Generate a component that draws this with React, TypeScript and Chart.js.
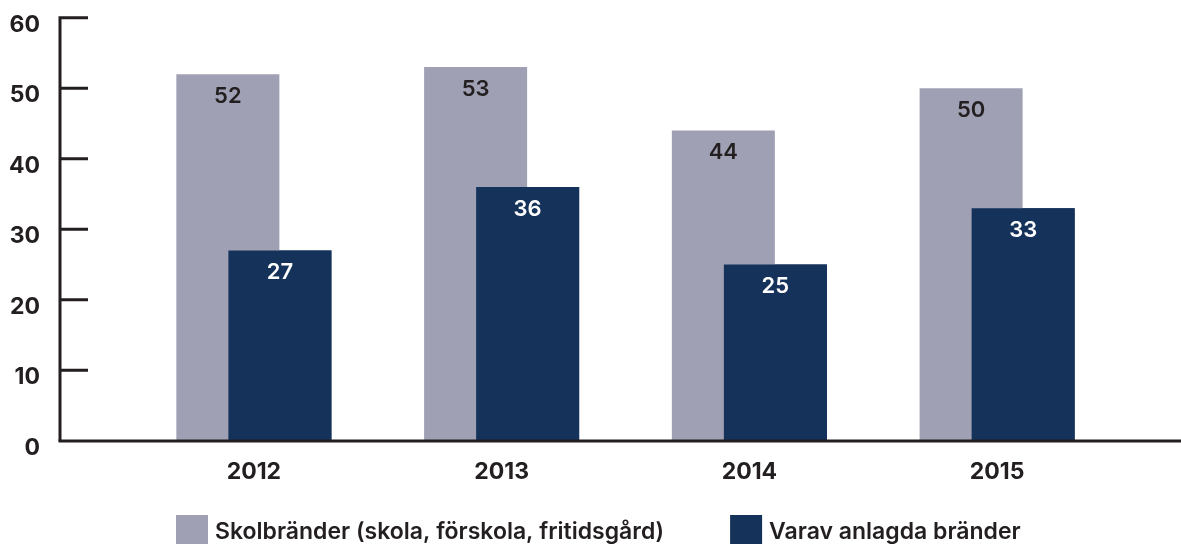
import React, { useEffect, useRef } from 'react';
import { Chart, registerables } from 'chart.js';

Chart.register(...registerables);

const categories = ['2012', '2013', '2014', '2015'];
const skolbrander = [52, 53, 44, 50];
const anlagda = [27, 36, 25, 33];
const seriesNames = ['Skolbränder (skola, förskola, fritidsgård)', 'Varav anlagda bränder'];
const yMin = 0;
const yMax = 60;
const yStep = 10;

const GRAY = '#A0A0B4';
const NAVY = '#15325A';
const INK = '#231F20';
const FONT = 'Inter, "Open Sans", Lato, sans-serif';

const overlayPlugin = {
  id: 'overlay',
  afterDatasetsDraw(chart: any) {
    const { ctx, chartArea } = chart;
    const y = chart.scales.y;
    // navy bars drawn over the gray ones
    chart.getDatasetMeta(1).data.forEach((el: any) => el.draw(ctx));

    // value labels
    ctx.save();
    ctx.textAlign = 'center';
    ctx.textBaseline = 'middle';
    ctx.font = `600 22px ${FONT}`;
    chart.data.datasets.forEach((ds: any, di: number) => {
      const meta = chart.getDatasetMeta(di);
      ctx.fillStyle = di === 0 ? INK : '#FFFFFF';
      meta.data.forEach((el: any, i: number) => {
        ctx.fillText(String(ds.data[i]), el.x, el.y + 22);
      });
    });
    ctx.restore();

    // axes
    ctx.save();
    ctx.strokeStyle = INK;
    ctx.lineWidth = 3;
    ctx.lineCap = 'butt';
    const ax = chartArea.left - 70;
    const y0 = y.getPixelForValue(yMin);
    const yTop = y.getPixelForValue(yMax);
    ctx.beginPath();
    ctx.moveTo(ax, yTop - 1.5);
    ctx.lineTo(ax, y0);
    y.ticks.forEach((t: any) => {
      if (t.value === yMin) return;
      const py = y.getPixelForValue(t.value);
      ctx.moveTo(ax - 1.5, py);
      ctx.lineTo(ax + 28, py);
    });
    ctx.stroke();
    ctx.beginPath();
    ctx.moveTo(ax - 1.5, y0);
    ctx.lineTo(chart.width, y0);
    ctx.stroke();
    ctx.restore();
  },
  afterDraw(chart: any) {
    const { ctx, chartArea } = chart;
    ctx.save();
    ctx.font = `600 23px ${FONT}`;
    ctx.textBaseline = 'middle';
    ctx.textAlign = 'left';
    ctx.fillStyle = INK;
    let x = chartArea.left + 46;
    const boxTop = 515;
    const box = 32;
    chart.data.datasets.forEach((ds: any) => {
      ctx.fillStyle = ds.backgroundColor;
      ctx.fillRect(x, boxTop, box, box);
      ctx.fillStyle = INK;
      const tx = x + box + 7;
      ctx.fillText(ds.label, tx, boxTop + box / 2 + 1);
      x = tx + ctx.measureText(ds.label).width + 66;
    });
    ctx.restore();
  },
};

export default function App() {
  const ref = useRef<HTMLCanvasElement | null>(null);
  useEffect(() => {
    if (!ref.current) return;
    const chart = new Chart(ref.current, {
      type: 'bar',
      data: {
        labels: categories,
        datasets: [
          {
            label: seriesNames[0],
            data: skolbrander,
            backgroundColor: GRAY,
            borderWidth: 0,
            categoryPercentage: 0.42,
            barPercentage: 1.98,
          },
          {
            label: seriesNames[1],
            data: anlagda,
            backgroundColor: NAVY,
            borderWidth: 0,
            categoryPercentage: 0.42,
            barPercentage: 1.98,
          },
        ],
      },
      options: {
        responsive: false,
        animation: false,
        layout: { padding: { top: 17.7, right: 60, left: 0, bottom: 41.5 } },
        plugins: {
          legend: { display: false },
          tooltip: { enabled: false },
        },
        scales: {
          x: {
            grid: { display: false, drawTicks: false },
            border: { display: false },
            ticks: {
              color: INK,
              font: { family: FONT, size: 23, weight: 'bold' },
              padding: 17,
            },
          },
          y: {
            min: yMin,
            max: yMax,
            grid: { display: false, drawTicks: false },
            border: { display: false },
            ticks: {
              stepSize: yStep,
              color: INK,
              font: { family: FONT, size: 23, weight: 'bold' },
              padding: 90,
              labelOffset: 7,
            },
            afterFit: (s: any) => {
              s.width = 130;
              s.paddingTop = 10;
              s.paddingBottom = 10;
            },
          },
        },
      },
      plugins: [overlayPlugin],
    });
    return () => chart.destroy();
  }, []);
  return (
    <div style={{ position: 'fixed', left: 0, top: 0, width: 1181, height: 544, overflow: 'hidden', background: '#fff' }}>
      <canvas ref={ref} width={1181} height={544} style={{ display: 'block' }} />
    </div>
  );
}
